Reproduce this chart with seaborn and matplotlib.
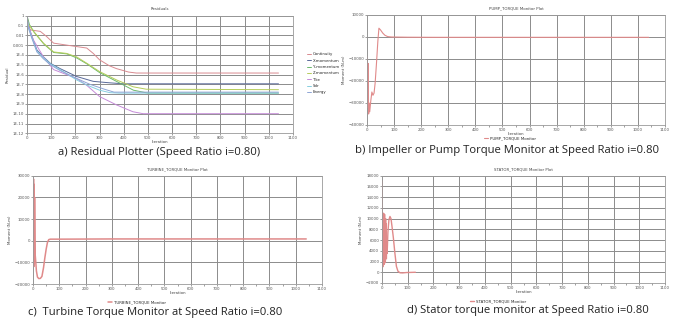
import matplotlib
matplotlib.use("Agg")
import matplotlib.pyplot as plt
import numpy as np
import seaborn as sns

# ---------------- data ----------------
# a) residuals, stored as log10 exponents
res_names = ["Continuity", "X-momentum", "Y-momentum", "Z-momentum", "Tke", "Sdr", "Energy"]
res_colors = ["#d98a90", "#5a6a9a", "#6ab86a", "#b5cc5a", "#c58ad8", "#86cfe0", "#8fa6d6"]

cont_it = [0, 8, 14, 55, 80, 110, 164, 205, 247, 274, 300, 340, 370, 420, 452, 1040]
cont_log = [0, -1.1, -1.45, -1.6, -2.1, -2.8, -3.0, -3.15, -3.3, -3.85, -4.5, -5.1, -5.4, -5.75, -5.85, -5.85]

xmom_it = [0, 5, 20, 41, 68, 96, 137, 205, 274, 342, 400, 1040]
xmom_log = [0, -1.0, -2.1, -3.5, -4.2, -4.85, -5.4, -6.2, -6.7, -6.85, -6.95, -6.95]

ymom_it = [0, 10, 30, 70, 110, 165, 205, 250, 300, 370, 440, 500, 1040]
ymom_log = [0, -0.9, -1.7, -2.9, -3.75, -3.9, -4.3, -4.95, -5.8, -6.7, -7.6, -7.9, -7.9]

zmom_it = [0, 3, 27, 68, 110, 164, 205, 247, 300, 370, 438, 493, 1040]
zmom_log = [0, -0.75, -1.6, -2.8, -3.7, -3.85, -4.2, -4.85, -5.7, -6.55, -7.25, -7.5, -7.55]

tke_it = [0, 5, 27, 68, 110, 205, 247, 300, 370, 438, 480, 1040]
tke_log = [0, -1.0, -2.5, -4.2, -5.5, -6.4, -7.1, -8.25, -9.1, -9.8, -10.0, -10.0]

sdr_it = [0, 5, 20, 41, 68, 96, 137, 205, 250, 300, 342, 380, 1040]
sdr_log = [0, -1.1, -2.2, -3.6, -4.3, -4.9, -5.5, -6.55, -7.1, -7.6, -7.85, -7.9, -7.9]

energy_it = [0, 5, 20, 41, 68, 96, 137, 205, 260, 320, 360, 1040]
energy_log = [0, -1.2, -2.3, -3.7, -4.4, -5.0, -5.6, -6.4, -7.0, -7.5, -7.8, -7.8]

res_its = [cont_it, xmom_it, ymom_it, zmom_it, tke_it, sdr_it, energy_it]
res_logs = [cont_log, xmom_log, ymom_log, zmom_log, tke_log, sdr_log, energy_log]

res_ticks = ["1", "0.1", "0.01", "0.001", "1E-4", "1E-5", "1E-6", "1E-7",
             "1E-8", "1E-9", "1E-10", "1E-11", "1E-12"]

# b) pump torque
pump_it = [0, 2, 4, 6, 8, 10, 14, 18, 22, 26, 30, 35, 40, 44, 50, 58, 66, 76, 90, 150, 250, 1040]
pump_val = [-9000, -32000, -12000, -35000, -30000, -34000, -29000, -25000, -26500, -25500,
            -21000, -12000, -2000, 4000, 3200, 1800, 800, 200, 0, -100, -150, -150]

# c) turbine torque
turb_it = [0, 1, 2, 3, 4, 5, 6, 8, 10, 13, 17, 22, 28, 34, 40, 45, 50, 55, 60, 66, 100, 300, 1040]
turb_val = [27000, -10000, 28500, -12000, 26000, -9000, 20000, -6000, -9000, -14000, -16800,
            -17500, -17400, -16500, -12500, -8000, -4000, -800, 500, 700, 700, 800, 800]

# d) stator torque
stat_it = [0, 1, 2, 3, 4, 5, 6, 7, 8, 9, 10, 11, 12, 13, 14, 15, 16, 17, 18, 20, 23, 27, 31,
           35, 39, 44, 50, 56, 62, 70, 80, 95, 130]
stat_val = [17000, 1500, 11000, 1000, 10500, 1800, 11000, 2000, 10000, 1500, 10800, 2500, 9500,
            1800, 10000, 3000, 9000, 2500, 6000, 3500, 7500, 9800, 10400, 10000, 8500, 6500,
            3600, 1100, 200, -100, -120, -50, 0]

captions = ["a) Residual Plotter (Speed Ratio i=0.80)",
            "b) Impeller or Pump Torque Monitor at Speed Ratio i=0.80",
            "c)  Turbine Torque Monitor at Speed Ratio i=0.80",
            "d) Stator torque monitor at Speed Ratio i=0.80"]

# ---------------- figure ----------------
sns.set_style("whitegrid")
plt.rcParams["font.family"] = ["DejaVu Sans"]

fig = plt.figure(figsize=(6.75, 3.24), dpi=100)
W, H = 675, 324


def add_axes(left, top, right, bottom):
    return fig.add_axes([left / W, 1 - bottom / H, (right - left) / W, (bottom - top) / H])


ax_a = add_axes(27, 15.7, 293, 133.3)
ax_b = add_axes(367, 15, 665, 125)
ax_c = add_axes(33, 175.7, 322, 284)
ax_d = add_axes(382, 175.7, 665, 283)

TINY = 2.8
GRID = "#8c8c8c"
line_red = "#e08a8a"

for ax in (ax_a, ax_b, ax_c, ax_d):
    ax.set_xlim(0, 1100)
    ax.set_xticks(range(0, 1101, 100))
    ax.set_xticks(range(50, 1100, 100), minor=True)
    ax.grid(True, which="major", color=GRID, linewidth=0.7)
    ax.grid(False, which="minor")
    ax.tick_params(axis="both", which="both", labelsize=TINY, colors="#555555",
                   length=1.2, width=0.4, pad=0.8, bottom=True, left=True)
    for s in ax.spines.values():
        s.set_color("#999999")
        s.set_linewidth(0.6)
    ax.set_xlabel("Iteration", fontsize=TINY, labelpad=0, color="#444444")

# a) residuals
for name, col, it, lg in zip(res_names, res_colors, res_its, res_logs):
    sns.lineplot(x=it, y=10.0 ** np.array(lg), ax=ax_a, color=col, linewidth=0.7, label=name)
ax_a.set_yscale("log")
ax_a.set_ylim(1e-12, 1)
ax_a.set_yticks([10.0 ** -k for k in range(13)])
ax_a.set_yticklabels(res_ticks)
ax_a.minorticks_off()
ax_a.set_xticks(range(0, 1101, 100))
ax_a.set_ylabel("Residual", fontsize=TINY, labelpad=2, color="#444444")
ax_a.set_title("Residuals", fontsize=TINY, pad=4, color="#444444")
ax_a.legend(loc="center left", bbox_to_anchor=(1.04, 0.51), fontsize=TINY, frameon=False,
            handlelength=1.0, handletextpad=0.4, labelspacing=0.6)

# b) pump
sns.lineplot(x=pump_it, y=pump_val, ax=ax_b, color=line_red, linewidth=0.8,
             label="PUMP_TORQUE Monitor")
ax_b.set_ylim(-40000, 10000)
ax_b.set_yticks(range(-40000, 10001, 10000))
ax_b.set_ylabel("Moment (N-m)", fontsize=TINY, labelpad=2, color="#444444")
ax_b.set_title("PUMP_TORQUE Monitor Plot", fontsize=TINY, pad=4, color="#444444")
ax_b.legend(loc="center", bbox_to_anchor=(0.48, -0.12), fontsize=TINY, frameon=False,
            handlelength=1.0, handletextpad=0.4)

# c) turbine
sns.lineplot(x=turb_it, y=turb_val, ax=ax_c, color=line_red, linewidth=1.1,
             label="TURBINE_TORQUE Monitor")
ax_c.set_ylim(-20000, 30000)
ax_c.set_yticks(range(-20000, 30001, 10000))
ax_c.set_ylabel("Moment (N-m)", fontsize=TINY, labelpad=2, color="#444444")
ax_c.set_title("TURBINE_TORQUE Monitor Plot", fontsize=TINY, pad=4, color="#444444")
ax_c.legend(loc="center", bbox_to_anchor=(0.36, -0.17), fontsize=TINY, frameon=False,
            handlelength=1.0, handletextpad=0.4)

# d) stator
sns.lineplot(x=stat_it, y=stat_val, ax=ax_d, color=line_red, linewidth=1.0,
             label="STATOR_TORQUE Monitor")
ax_d.set_ylim(-2000, 18000)
ax_d.set_yticks(range(-2000, 18001, 2000))
ax_d.set_ylabel("Moment (N-m)", fontsize=TINY, labelpad=2, color="#444444")
ax_d.set_title("STATOR_TORQUE Monitor Plot", fontsize=TINY, pad=4, color="#444444")
ax_d.legend(loc="center", bbox_to_anchor=(0.41, -0.17), fontsize=TINY, frameon=False,
            handlelength=1.0, handletextpad=0.4)

# captions
cap_font = dict(fontsize=8.1, family=["Open Sans", "DejaVu Sans"], color="#222222",
                ha="center", va="center")
fig.text(159 / W, 1 - 152.5 / H, captions[0], **cap_font)
fig.text(507 / W, 1 - 150 / H, captions[1], **cap_font)
fig.text(155 / W, 1 - 313 / H, captions[2], **cap_font)
fig.text(528 / W, 1 - 311 / H, captions[3], **cap_font)

fig.savefig("out.png", dpi=100, facecolor="white")
